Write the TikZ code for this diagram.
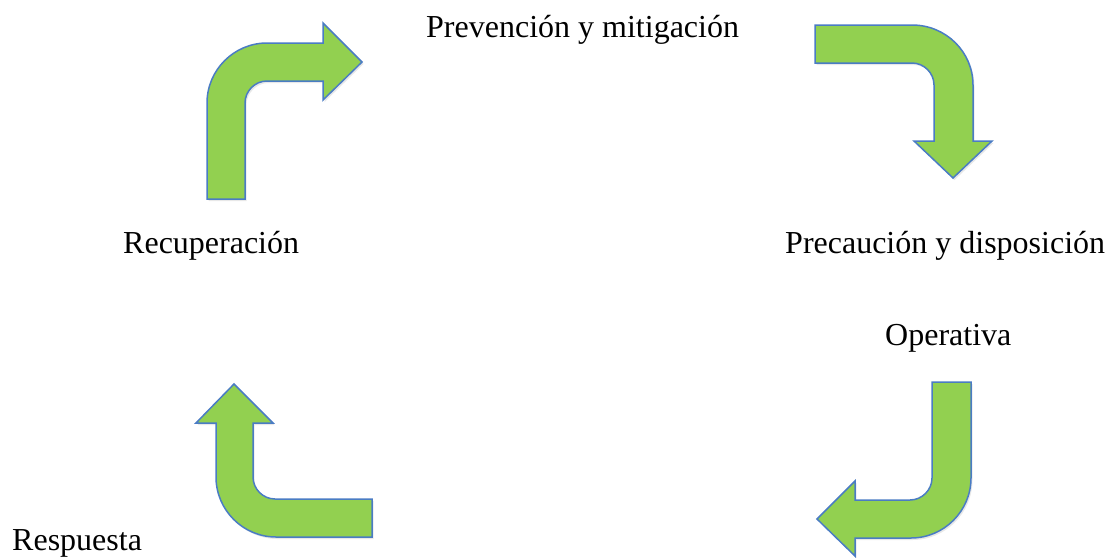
\documentclass[tikz,border=0pt]{standalone}
\usepackage{fontspec}
\setmainfont{Liberation Serif}
\usetikzlibrary{shadows}
\definecolor{arrowfill}{HTML}{92D050}
\definecolor{arrowline}{HTML}{4A7CC4}
\tikzset{
  bentarrow/.style={fill=arrowfill, draw=arrowline, line width=1.5pt, line join=miter,
    drop shadow={opacity=0.18, shadow xshift=1.5pt, shadow yshift=-2pt}},
  label/.style={anchor=base west, inner sep=0pt, font=\fontsize{32}{38}\selectfont}
}
\begin{document}
\begin{tikzpicture}[x=1pt,y=-1pt]
\useasboundingbox[fill=white] (0,0) rectangle (1111,557);
% top-left arrow
\path[bentarrow] (207,199) -- (207,103) .. controls (207,70) and (234,43) .. (267,43)
  -- (323,43) -- (323,23) -- (362,62) -- (323,100) -- (323,81) -- (267,81)
  .. controls (255,81) and (245,91) .. (245,103) -- (245,199) -- cycle;
% top-right arrow
\path[bentarrow] (815,25) -- (912,25) .. controls (946,25) and (973,52) .. (973,85)
  -- (973,141) -- (992,141) -- (953,178) -- (914,141) -- (934,141) -- (934,85)
  .. controls (934,73) and (924,63) .. (912,63) -- (815,63) -- cycle;
% bottom-left arrow
\path[bentarrow] (372,537) -- (276,537) .. controls (243,537) and (216,510) .. (216,477)
  -- (216,423) -- (196,423) -- (234,384) -- (273,423) -- (253,423) -- (253,477)
  .. controls (253,489) and (263,499) .. (275,499) -- (372,499) -- cycle;
% bottom-right arrow
\path[bentarrow] (932,382) -- (971,382) -- (971,478) .. controls (971,511) and (944,538) .. (911,538)
  -- (855,538) -- (855,556) -- (817,519) -- (855,481) -- (855,500) -- (910,500)
  .. controls (922,500) and (932,490) .. (932,478) -- cycle;
% labels
\node[label] (prev) at (426,37) {Prevención y mitigación};
\node[label] (recu) at (123,253) {Recuperación};
\node[label] (prec) at (785,253) {Precaución y disposición};
\node[label] (oper) at (885,345) {Operativa};
\node[label] (resp) at (12,550) {Respuesta};
\end{tikzpicture}
\end{document}
